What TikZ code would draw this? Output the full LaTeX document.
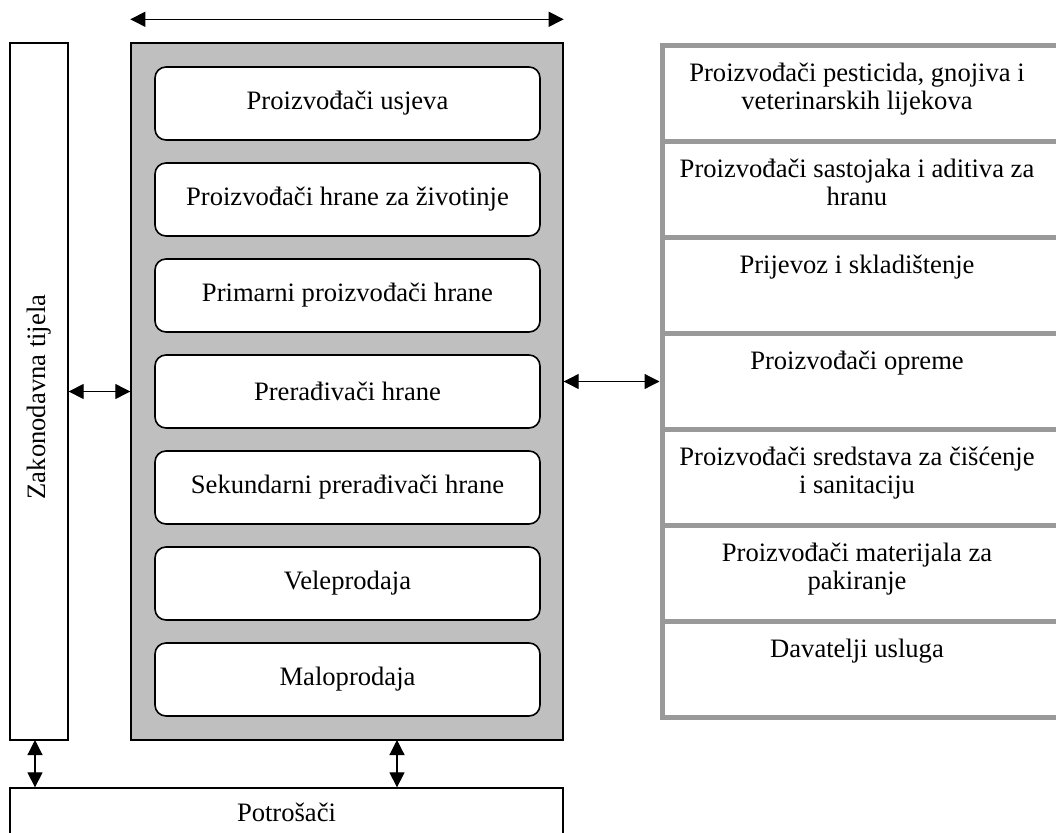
\documentclass[tikz,border=0pt]{standalone}
\usepackage{fontspec}
\setmainfont{Liberation Serif}
\usetikzlibrary{arrows.meta}
\begin{document}
\begin{tikzpicture}[x=1pt,y=-1pt,
  txt/.style={font=\fontsize{26.6}{28.2}\selectfont},
  arr/.style={{Triangle[length=15pt,width=15pt]}-{Triangle[length=15pt,width=15pt]}, line width=1.2pt},
  chainbox/.style={draw=black, fill=black!25, line width=1.4pt, minimum width=432pt, minimum height=697pt, inner sep=0pt},
  stage/.style={draw=black, fill=white, rounded corners=11pt, line width=1.6pt, minimum width=385pt, minimum height=73pt, inner sep=0pt, txt},
  sidebox/.style={draw=black, fill=white, line width=1.3pt, inner sep=0pt},
  row/.style={draw=black!40, fill=white, line width=5pt, minimum width=420pt, minimum height=96pt, inner sep=0pt, anchor=north west},
  rowtxt/.style={txt, align=center, anchor=north, inner sep=0pt}
]
\useasboundingbox (0,0) rectangle (1056,832);
\clip (0,0) rectangle (1056,832);
\fill[white] (0,0) rectangle (1056,832);

% left body
\node[sidebox, minimum width=58pt, minimum height=697pt] (law) at (39,391.5) {};
\node[txt, rotate=90] (lawtxt) at (39,397) {Zakonodavna tijela};

% central chain
\node[chainbox] (chain) at (347,391.5) {};
\node[stage] (b1) at (347.5,103.5) {Proizvođači usjeva};
\node[stage] (b2) at (347.5,199.5) {Proizvođači hrane za životinje};
\node[stage] (b3) at (347.5,295.5) {Primarni proizvođači hrane};
\node[stage] (b4) at (347.5,391.5) {Prerađivači hrane};
\node[stage] (b5) at (347.5,487.5) {Sekundarni prerađivači hrane};
\node[stage] (b6) at (347.5,583.5) {Veleprodaja};
\node[stage] (b7) at (347.5,679.5) {Maloprodaja};

% right stack
\foreach \i/\t in {1/43,2/139,3/235,4/331,5/427,6/523,7/619}{
  \node[row] (r\i) at (659.5,\t) {};
}
\node[rowtxt] (t1) at ([yshift=-20pt]r1.north -| 857,0) {Proizvođači pesticida, gnojiva i\\veterinarskih lijekova};
\node[rowtxt] (t2) at ([yshift=-20pt]r2.north -| 857,0) {Proizvođači sastojaka i aditiva za\\hranu};
\node[rowtxt] (t3) at ([yshift=-20pt]r3.north -| 857,0) {Prijevoz i skladištenje};
\node[rowtxt] (t4) at ([yshift=-20pt]r4.north -| 857,0) {Proizvođači opreme};
\node[rowtxt] (t5) at ([yshift=-20pt]r5.north -| 857,0) {Proizvođači sredstava za čišćenje\\i sanitaciju};
\node[rowtxt] (t6) at ([yshift=-20pt]r6.north -| 857,0) {Proizvođači materijala za\\pakiranje};
\node[rowtxt] (t7) at ([yshift=-20pt]r7.north -| 857,0) {Davatelji usluga};

% consumers
\node[sidebox, minimum width=553pt, minimum height=48pt, txt] (cons) at (286.5,812) {Potrošači};

% arrows
\draw[arr] ([yshift=23pt]chain.north west) -- ([yshift=23pt]chain.north east);
\draw[arr] (law.east) -- (law.east -| chain.west);
\draw[arr] (chain.east |- r4.west) -- (r4.west);
\coordinate (lb) at (35,740);
\coordinate (mb) at (397,740);
\draw[arr] (lb) -- (lb |- cons.north);
\draw[arr] (mb) -- (mb |- cons.north);
\end{tikzpicture}
\end{document}
